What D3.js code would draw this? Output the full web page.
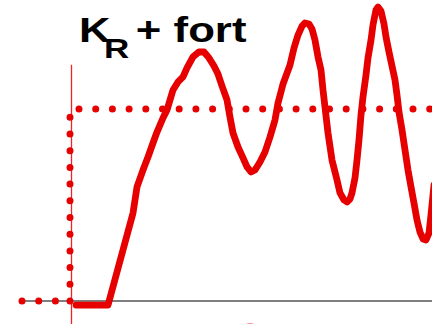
<!DOCTYPE html>
<html>
<head>
<meta charset="utf-8">
<script src="https://cdn.jsdelivr.net/npm/d3@7"></script>
<style>
  html, body { margin: 0; padding: 0; background: #fff; }
  svg { display: block; }
</style>
</head>
<body>
<svg id="chart" width="432" height="324"></svg>
<script>
// Step response of the closed loop with a strong controller gain (K_R + fort)
const timeValues = [
  0.4, 3.6, 6.1, 6.5, 7.1, 7.6, 8.1, 8.5, 9.1, 9.5, 10.1, 10.6, 11.1, 11.5, 12.1, 12.7,
  13.2, 13.7, 14.2, 14.6, 15.0, 15.5, 15.8, 16.1, 16.6, 17.1, 17.5, 17.9, 18.3, 18.8,
  19.3, 19.8, 20.3, 20.6, 21.1, 21.8, 22.2, 22.6, 23.0, 23.3, 23.7, 24.0, 24.3, 24.6,
  24.9, 25.1, 25.3, 25.6, 26.0, 26.5, 26.8, 27.2, 27.5, 27.8, 28.0, 28.3, 28.5, 28.7,
  28.9, 29.1, 29.4, 29.6, 29.9, 30.1, 30.4, 30.6, 30.9, 31.2, 31.4, 31.7, 32.0, 32.3,
  32.5, 32.7, 33.0, 33.3, 33.6, 33.9, 34.2, 34.5, 34.8, 35.1, 35.4, 35.7, 35.9, 36.2
];
const responseValues = [
  -0.021, -0.021, 0.458, 0.594, 0.682, 0.750, 0.823, 0.880, 0.953, 0.995, 1.099, 1.141,
  1.167, 1.214, 1.271, 1.297, 1.297, 1.266, 1.224, 1.182, 1.120, 1.047, 0.958, 0.875,
  0.802, 0.745, 0.698, 0.672, 0.682, 0.724, 0.776, 0.854, 0.943, 1.031, 1.130, 1.229,
  1.318, 1.385, 1.432, 1.448, 1.443, 1.417, 1.359, 1.271, 1.203, 1.099, 1.010, 0.875,
  0.734, 0.630, 0.563, 0.526, 0.516, 0.531, 0.563, 0.641, 0.734, 0.839, 0.969, 1.063,
  1.177, 1.266, 1.359, 1.438, 1.516, 1.531, 1.510, 1.443, 1.375, 1.297, 1.224, 1.151,
  1.073, 0.984, 0.891, 0.786, 0.682, 0.594, 0.510, 0.422, 0.359, 0.323, 0.318, 0.354,
  0.448, 0.604
];
// Set-point step: 0 before the step, 1 after it
const stepTimes = [-5, -0.2, -0.2, 36.5];
const stepValues = [0, 0, 1, 1];

const titleMain = "K";
const titleSub = "R";
const titleRest = "+ fort";

const red = "#e60000";
const svg = d3.select("#chart");

const x = d3.scaleLinear().domain([0, 36]).range([72, 432]);
const y = d3.scaleLinear().domain([0, 1]).range([301, 109]);

// Axes: time axis in black, output axis as a thin red line
svg.append("line")
  .attr("x1", x(-5.2)).attr("x2", 432)
  .attr("y1", y(0)).attr("y2", y(0))
  .attr("stroke", "#000").attr("stroke-width", 1.1);
svg.append("line")
  .attr("x1", x(-0.05)).attr("x2", x(-0.05))
  .attr("y1", y(1.23)).attr("y2", 324)
  .attr("stroke", red).attr("stroke-opacity", 0.85).attr("stroke-width", 1.3);

// Dotted set-point step
const stepPts = stepTimes.map((t, i) => [t, stepValues[i]]);
const dotted = { "stroke": red, "stroke-width": 7, "stroke-linecap": "round", "fill": "none", "stroke-dasharray": "0 16.7" };
function dottedSegment(a, b) {
  const p = svg.append("line")
    .attr("x1", x(a[0])).attr("y1", y(a[1]))
    .attr("x2", x(b[0])).attr("y2", y(b[1]));
  Object.entries(dotted).forEach(([k, v]) => p.attr(k, v));
}
dottedSegment(stepPts[0], stepPts[1]);
dottedSegment(stepPts[1], [stepPts[2][0], 0.96]);
dottedSegment([0.7, 1], stepPts[3]);

// Plant output
const line = d3.line()
  .x((d) => x(d[0]))
  .y((d) => y(d[1]))
  .curve(d3.curveLinear);
svg.append("path")
  .datum(timeValues.map((t, i) => [t, responseValues[i]]))
  .attr("d", line)
  .attr("fill", "none")
  .attr("stroke", red)
  .attr("stroke-width", 6.8)
  .attr("stroke-linejoin", "round")
  .attr("stroke-linecap", "round");

// Title: K with subscript R, then "+ fort"
const title = svg.append("text")
  .attr("transform", "translate(79,42) scale(1.25,1)")
  .attr("font-family", "'Liberation Sans', Arial, sans-serif")
  .attr("font-weight", "bold")
  .attr("font-size", 35)
  .attr("fill", "#000");
title.append("tspan").attr("x", 0).attr("y", 0).text(titleMain);
title.append("tspan").attr("x", 20).attr("y", 16).attr("font-size", 28).text(titleSub);
title.append("tspan").attr("x", 45.5).attr("y", 0).text(titleRest);

// Edge of the next marker peeking in below the axis
svg.append("ellipse")
  .attr("cx", 250).attr("cy", 333).attr("rx", 9).attr("ry", 10)
  .attr("fill", red).attr("fill-opacity", 0.45);
</script>
</body>
</html>
